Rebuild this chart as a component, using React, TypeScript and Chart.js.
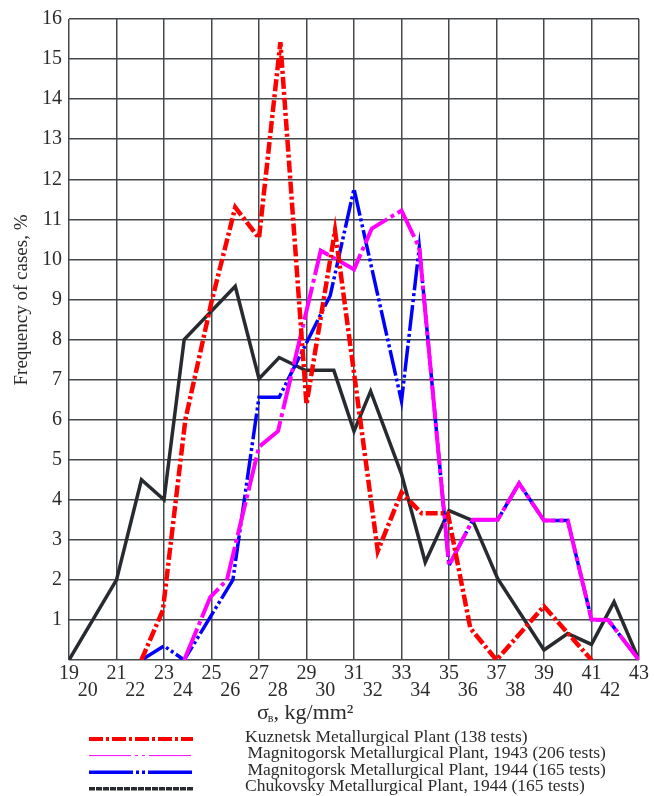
import { useEffect, useRef } from 'react';
import { Chart, registerables } from 'chart.js';

Chart.register(...registerables);

// ---------- data ----------
const xMin = 19;
const xMax = 43;
const yMin = 0;
const yMax = 16;

const seriesLabels = [
  'Kuznetsk Metallurgical Plant (138 tests)',
  'Magnitogorsk Metallurgical Plant, 1943 (206 tests)',
  'Magnitogorsk Metallurgical Plant, 1944 (165 tests)',
  'Chukovsky Metallurgical Plant, 1944 (165 tests)',
];

const kuznetskX = [22.05, 22.95, 23.9, 25, 26, 27, 27.9, 29, 30.2, 32, 33, 33.85, 34.95, 35.9, 37, 39, 41];
const kuznetskY = [0, 1.24, 6.0, 8.94, 11.3, 10.53, 15.42, 6.38, 10.72, 2.72, 4.18, 3.66, 3.66, 0.79, 0, 1.34, 0];

const magn1943X = [23.85, 24.95, 25.65, 27, 27.8, 29.6, 31, 31.75, 33, 33.75, 35, 36, 37.05, 37.95, 39, 40, 41, 41.7, 43];
const magn1943Y = [0, 1.57, 2.0, 5.32, 5.71, 10.22, 9.75, 10.77, 11.22, 10.29, 2.36, 3.5, 3.5, 4.41, 3.48, 3.48, 1.01, 1.0, 0];

const magn1944X = [22.05, 23, 23.85, 25.9, 27, 27.85, 30, 31, 33, 33.75, 35, 36, 37.05, 37.95, 39, 40, 41, 41.7, 43];
const magn1944Y = [0, 0.35, 0, 2.0, 6.56, 6.56, 9.1, 11.76, 6.46, 10.3, 2.36, 3.5, 3.5, 4.41, 3.48, 3.48, 1.01, 1.0, 0];

const chukovskyX = [19, 21, 22.05, 23, 23.85, 26, 27, 27.85, 28.95, 30.15, 31, 31.7, 33, 34, 35, 36, 37.05, 39, 40, 41, 41.95, 43];
const chukovskyY = [0, 2.0, 4.5, 4.0, 8.0, 9.33, 7.02, 7.55, 7.23, 7.23, 5.71, 6.71, 4.64, 2.44, 3.73, 3.48, 2.03, 0.25, 0.66, 0.39, 1.45, 0];

const yAxisTitle = 'Frequency of cases, %';
const xAxisSymbol = 'σ';
const xAxisSubscript = 'в';
const xAxisUnit = ', kg/mm²';

// ---------- styling ----------
const SERIF = '"Liberation Serif", "Times New Roman", serif';
const TEXT = '#2b2b2b';
const GRID = '#44484d';
const COLORS = ['#ff0000', '#ff00ff', '#0000ff', '#272b2f'];

const toPoints = (xs: number[], ys: number[]) => xs.map((x, i) => ({ x, y: ys[i] }));

const manualText = {
  id: 'manualText',
  afterDraw(chart: any) {
    const ctx: CanvasRenderingContext2D = chart.ctx;
    const area = chart.chartArea;
    ctx.save();
    ctx.fillStyle = TEXT;

    // y axis title
    ctx.save();
    ctx.translate(22, 300);
    ctx.rotate(-Math.PI / 2);
    ctx.font = `19px ${SERIF}`;
    ctx.textAlign = 'center';
    ctx.textBaseline = 'middle';
    ctx.fillText(yAxisTitle, 0, 0);
    ctx.restore();

    // x axis title
    const baseX = 257;
    const baseY = area.bottom + 59;
    ctx.textAlign = 'left';
    ctx.textBaseline = 'alphabetic';
    ctx.font = `22px ${SERIF}`;
    ctx.fillText(xAxisSymbol, baseX, baseY);
    let cx = baseX + ctx.measureText(xAxisSymbol).width;
    ctx.font = `12px ${SERIF}`;
    ctx.fillText(xAxisSubscript, cx - 1, baseY + 3);
    cx += ctx.measureText(xAxisSubscript).width - 1;
    ctx.font = `22px ${SERIF}`;
    ctx.fillText(xAxisUnit, cx, baseY);

    // legend
    const ds = chart.data.datasets;
    ctx.font = `17.5px ${SERIF}`;
    ctx.textBaseline = 'middle';
    for (let i = 0; i < ds.length; i++) {
      const d = ds[i];
      const ty = 737 + i * 16.6;
      const ly = ty + 2;
      ctx.save();
      ctx.strokeStyle = d.borderColor;
      ctx.lineWidth = d.legendWidth;
      ctx.setLineDash(d.legendDash);
      ctx.beginPath();
      ctx.moveTo(89, ly);
      ctx.lineTo(193, ly);
      ctx.stroke();
      ctx.restore();
      ctx.fillStyle = TEXT;
      ctx.fillText(d.label, d.legendTextX, ty);
    }
    ctx.restore();
  },
};

export default function App() {
  const ref = useRef<HTMLCanvasElement | null>(null);

  useEffect(() => {
    document.body.style.margin = '0';
    const canvas = ref.current;
    if (!canvas) return;
    const chart = new Chart(canvas, {
      type: 'line',
      data: {
        datasets: [
          {
            label: seriesLabels[0],
            data: toPoints(kuznetskX, kuznetskY),
            borderColor: COLORS[0],
            backgroundColor: COLORS[0],
            borderWidth: 4.5,
            borderDash: [12, 3, 3, 3],
            legendDash: [14, 3, 3, 3],
            legendWidth: 4,
            legendTextX: 245,
          } as any,
          {
            label: seriesLabels[1],
            data: toPoints(magn1943X, magn1943Y),
            borderColor: COLORS[1],
            backgroundColor: COLORS[1],
            borderWidth: 4,
            borderDash: [34, 4, 4, 4],
            legendDash: [42, 4, 3, 4, 3, 4],
            legendWidth: 1,
            legendTextX: 247.5,
          } as any,
          {
            label: seriesLabels[2],
            data: toPoints(magn1944X, magn1944Y),
            borderColor: COLORS[2],
            backgroundColor: COLORS[2],
            borderWidth: 3.5,
            borderDash: [26, 3, 3, 3, 3, 3],
            legendDash: [44, 3, 3, 3, 3, 3],
            legendWidth: 3.5,
            legendTextX: 247.5,
          } as any,
          {
            label: seriesLabels[3],
            data: toPoints(chukovskyX, chukovskyY),
            borderColor: COLORS[3],
            backgroundColor: COLORS[3],
            borderWidth: 3.5,
            borderDash: [],
            legendDash: [6, 1],
            legendWidth: 3.5,
            legendTextX: 245,
          } as any,
        ],
      },
      options: {
        responsive: false,
        animation: false,
        devicePixelRatio: 1,
        layout: { padding: { top: 16, right: 12, bottom: 0, left: 0 } },
        plugins: {
          legend: { display: false },
          tooltip: { enabled: false },
        },
        elements: {
          point: { radius: 0, hoverRadius: 0 },
          line: { tension: 0, fill: false },
        },
        scales: {
          x: {
            type: 'linear',
            min: xMin,
            max: xMax,
            afterFit: (s: any) => {
              s.height = 136;
            },
            ticks: {
              stepSize: 1,
              autoSkip: false,
              maxRotation: 0,
              minRotation: 0,
              padding: 5,
              color: TEXT,
              font: { family: SERIF, size: 20, lineHeight: 0.85 },
              callback: (v: any) => {
                const n = Math.round(Number(v));
                return n % 2 === 0 ? ['', `${n}  `] : String(n);
              },
            },
            grid: {
              color: (c: any) =>
                c.tick && Math.abs(Math.round(c.tick.value)) % 2 === 1 ? GRID : 'rgba(0,0,0,0)',
              lineWidth: 1.5,
              drawTicks: false,
            },
            border: { display: false },
          },
          y: {
            type: 'linear',
            min: yMin,
            max: yMax,
            afterFit: (s: any) => {
              s.width = 69;
            },
            ticks: {
              stepSize: 1,
              autoSkip: false,
              padding: 7,
              color: TEXT,
              font: { family: SERIF, size: 20 },
              callback: (v: any) => (Number(v) === 0 ? '' : String(v)),
            },
            grid: { color: GRID, lineWidth: 1.5, drawTicks: false },
            border: { display: false },
          },
        },
      },
      plugins: [manualText],
    } as any);
    return () => chart.destroy();
  }, []);

  return (
    <div style={{ width: 654, height: 796 }}>
      <canvas ref={ref} width={654} height={796} style={{ display: 'block' }} />
    </div>
  );
}
